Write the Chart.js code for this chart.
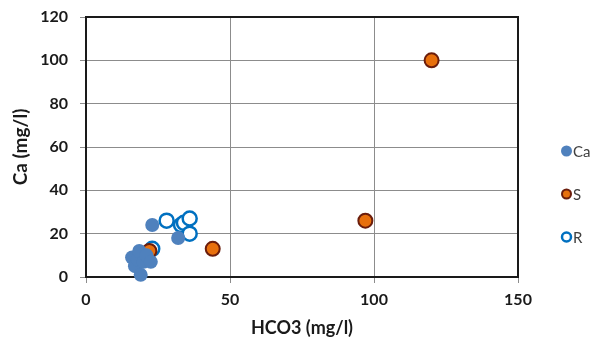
<!DOCTYPE html>
<html>
<head>
<meta charset="utf-8">
<script src="https://cdn.jsdelivr.net/npm/chart.js@4/dist/chart.umd.min.js"></script>
<style>
  html, body { margin: 0; background: #fff; }
  #wrap { width: 604px; height: 347px; }
</style>
</head>
<body>
<div id="wrap"><canvas id="chart"></canvas></div>
<script>
// data
const seriesNames = ['Ca', 'S', 'R'];
const caX = [16, 17, 18, 18.5, 19, 20, 21, 22.5, 23, 32];
const caY = [9, 5, 8, 12, 1, 7, 10, 7, 24, 18];
const sX = [120, 97, 44, 22];
const sY = [100, 26, 13, 12];
const rX = [23, 28, 33, 34, 36, 36];
const rY = [13, 26, 24, 25, 27, 20];
const xTicks = [0, 50, 100, 150];
const yTicks = [0, 20, 40, 60, 80, 100, 120];

const pts = (xs, ys) => xs.map((x, i) => ({ x: x, y: ys[i] }));
const FONT = 'Lato, "Open Sans", sans-serif';

const styles = [
    { backgroundColor: '#4f81bd', borderColor: '#4f81bd', borderWidth: 0 },
    { backgroundColor: '#e8700d', borderColor: '#6b1d0c', borderWidth: 2 },
    { backgroundColor: '#ffffff', borderColor: '#0070c0', borderWidth: 2.5 }
];
const allData = [pts(caX, caY), pts(sX, sY), pts(rX, rY)];

// dark frame round the plot area
const framePlugin = {
    id: 'frame',
    beforeDatasetsDraw(chart) {
        const a = chart.chartArea;
        const ctx = chart.ctx;
        ctx.save();
        ctx.strokeStyle = '#1a1a1a';
        ctx.lineWidth = 2;
        ctx.strokeRect(a.left, a.top, a.right - a.left, a.bottom - a.top);
        ctx.restore();
    }
};

// legend on the right, one entry per series
const legendPlugin = {
    id: 'sideLegend',
    afterDraw(chart) {
        const ctx = chart.ctx;
        ctx.save();
        ctx.font = '15px ' + FONT;
        ctx.textBaseline = 'middle';
        chart.data.datasets.forEach((ds, i) => {
            const y = 151 + i * 43;
            ctx.beginPath();
            ctx.arc(566.5, y, ds.borderWidth ? 4.5 : 5.5, 0, Math.PI * 2);
            ctx.fillStyle = ds.backgroundColor;
            ctx.fill();
            if (ds.borderWidth) {
                ctx.lineWidth = ds.borderWidth;
                ctx.strokeStyle = ds.borderColor;
                ctx.stroke();
            }
            ctx.fillStyle = '#404040';
            ctx.fillText(ds.label, 573, y + 1);
        });
        ctx.restore();
    }
};

new Chart(document.getElementById('chart'), {
    type: 'scatter',
    data: {
        datasets: seriesNames.map((name, i) => Object.assign({
            label: name,
            data: allData[i],
            pointRadius: 7,
            pointHoverRadius: 7,
            clip: false
        }, styles[i]))
    },
    options: {
        responsive: true,
        maintainAspectRatio: false,
        animation: false,
        layout: { padding: { top: 17, right: 86, bottom: 0, left: 0 } },
        plugins: {
            legend: { display: false },
            tooltip: { enabled: false }
        },
        scales: {
            x: {
                type: 'linear',
                min: 0, max: 150,
                afterBuildTicks: s => { s.ticks = xTicks.map(v => ({ value: v })); },
                afterFit: s => { s.height = 70; s.paddingLeft = 0; s.paddingRight = 0; },
                grid: { color: '#8c8c8c', tickColor: '#8c8c8c', tickLength: 6 },
                border: { display: false },
                ticks: { color: '#1a1a1a', padding: 7, font: { family: FONT, size: 16, weight: 'bold' } },
                title: { display: true, text: 'HCO3 (mg/l)', color: '#1a1a1a', padding: { top: 0, bottom: 8 },
                         font: { family: FONT, size: 18, weight: 'bold' } }
            },
            y: {
                type: 'linear',
                min: 0, max: 120,
                afterBuildTicks: s => { s.ticks = yTicks.map(v => ({ value: v })); },
                afterFit: s => { s.width = 86; s.paddingTop = 0; s.paddingBottom = 0; },
                grid: { color: '#8c8c8c', tickColor: '#8c8c8c', tickLength: 6 },
                border: { display: false },
                ticks: { color: '#1a1a1a', padding: 12, font: { family: FONT, size: 16, weight: 'bold' } },
                title: { display: true, text: 'Ca (mg/l)', color: '#1a1a1a', padding: { top: 9, bottom: 0 },
                         font: { family: FONT, size: 19, weight: 'bold' } }
            }
        }
    },
    plugins: [framePlugin, legendPlugin]
});
</script>
</body>
</html>
